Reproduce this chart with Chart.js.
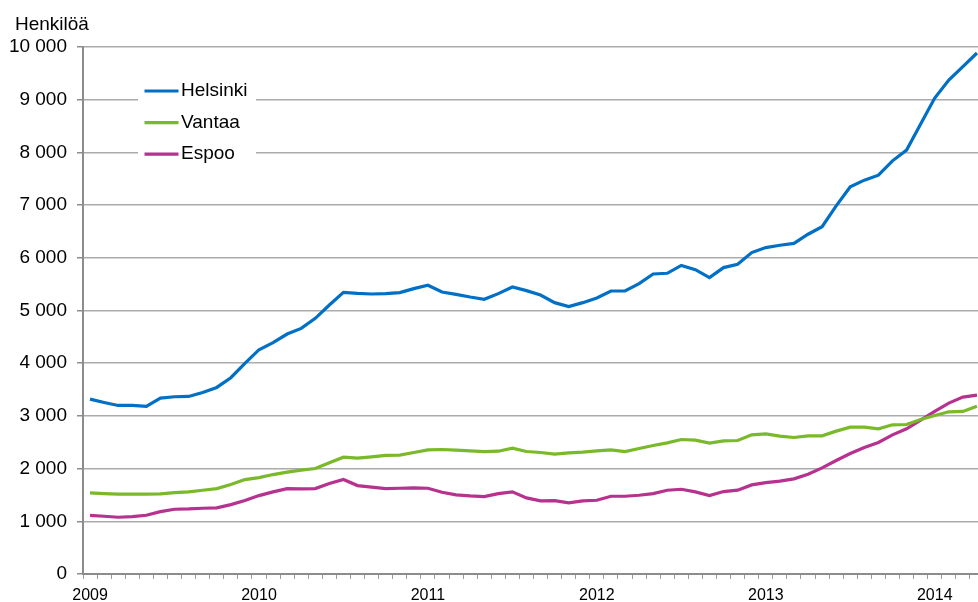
<!DOCTYPE html>
<html>
<head>
<meta charset="utf-8">
<script src="https://cdn.jsdelivr.net/npm/chart.js@4/dist/chart.umd.min.js"></script>
<style>
  html, body { margin: 0; padding: 0; background: #fff; overflow: hidden; }
  #wrap { position: relative; width: 984px; height: 602px; }
</style>
</head>
<body>
<div id="wrap"><canvas id="chart"></canvas></div>
<script>
const years = ['2009', '2010', '2011', '2012', '2013', '2014'];
const monthsShown = 64; // tammikuu 2009 - huhtikuu 2014

const helsinki = [
    3318, 3255, 3198, 3198, 3179, 3337, 3363, 3369, 3445, 3540, 3724, 3996,
    4256, 4389, 4553, 4661, 4851, 5104, 5345, 5326, 5313, 5320, 5339, 5415,
    5478, 5351, 5307, 5256, 5212, 5320, 5446, 5377, 5294, 5149, 5073, 5149,
    5237, 5370, 5370, 5510, 5693, 5706, 5855, 5775, 5624, 5814, 5877, 6099,
    6194, 6238, 6273, 6447, 6590, 6985, 7346, 7473, 7568, 7840, 8043, 8537,
    9031, 9373, 9626, 9886
];
const vantaa = [
    1539, 1526, 1514, 1514, 1514, 1520, 1545, 1558, 1589, 1621, 1697, 1792,
    1830, 1887, 1932, 1970, 2001, 2109, 2217, 2198, 2223, 2250, 2255, 2305,
    2356, 2362, 2349, 2337, 2324, 2330, 2387, 2324, 2305, 2273, 2299, 2311,
    2337, 2356, 2324, 2381, 2438, 2489, 2552, 2539, 2483, 2527, 2533, 2641,
    2660, 2616, 2590, 2622, 2622, 2711, 2787, 2787, 2755, 2831, 2837, 2932,
    3008, 3078, 3084, 3185
];
const espoo = [
    1114, 1096, 1077, 1089, 1114, 1184, 1229, 1235, 1248, 1254, 1317, 1393,
    1488, 1558, 1621, 1615, 1621, 1716, 1792, 1678, 1647, 1621, 1627, 1634,
    1627, 1551, 1501, 1482, 1469, 1526, 1558, 1444, 1387, 1393, 1349, 1387,
    1399, 1475, 1475, 1494, 1526, 1589, 1608, 1558, 1488, 1564, 1590, 1691,
    1735, 1761, 1805, 1894, 2014, 2153, 2286, 2400, 2495, 2641, 2755, 2919,
    3084, 3242, 3356, 3394
];

const colors = {
    helsinki: '#0070C6',
    vantaa: '#7AB929',
    espoo: '#B7318F'
};

// kuukausittaiset kategoriat
const labels = [];
for (let i = 0; i < monthsShown; i++) {
    labels.push(years[Math.floor(i / 12)] + '-' + String(i % 12 + 1).padStart(2, '0'));
}

const fontFamily = '"Liberation Sans", Arial, sans-serif';

function formatNumber(v) {
    return String(v).replace(/\B(?=(\d{3})+(?!\d))/g, ' ');
}

// otsikko ja selite piirretään itse
const extras = {
    id: 'extras',
    afterDraw(chart) {
        const ctx = chart.ctx;
        ctx.save();
        ctx.fillStyle = '#000';
        ctx.font = '19px ' + fontFamily;
        ctx.textBaseline = 'middle';
        ctx.textAlign = 'left';
        ctx.fillText('Henkilöä', 15, 25);

        ctx.fillStyle = '#fff';
        ctx.fillRect(138, 72, 118, 100);

        const items = [
            ['Helsinki', colors.helsinki],
            ['Vantaa', colors.vantaa],
            ['Espoo', colors.espoo]
        ];
        items.forEach((item, i) => {
            const y = 91 + i * 31.6;
            ctx.strokeStyle = item[1];
            ctx.lineWidth = 3.2;
            ctx.beginPath();
            ctx.moveTo(144.5, y);
            ctx.lineTo(178.5, y);
            ctx.stroke();
            ctx.fillStyle = '#000';
            ctx.fillText(item[0], 181, y);
        });
        ctx.restore();
    }
};

const ctx = document.getElementById('chart').getContext('2d');
new Chart(ctx, {
    type: 'line',
    data: {
        labels: labels,
        datasets: [
            { label: 'Helsinki', data: helsinki, borderColor: colors.helsinki },
            { label: 'Vantaa', data: vantaa, borderColor: colors.vantaa },
            { label: 'Espoo', data: espoo, borderColor: colors.espoo }
        ]
    },
    options: {
        responsive: true,
        maintainAspectRatio: false,
        animation: false,
        layout: { padding: { top: 47, right: 0, bottom: 0, left: 0 } },
        elements: {
            line: { borderWidth: 3.2, tension: 0 },
            point: { radius: 0, hoverRadius: 0 }
        },
        plugins: {
            legend: { display: false },
            tooltip: { enabled: false }
        },
        scales: {
            x: {
                offset: true,
                grid: {
                    offset: true,
                    drawOnChartArea: false,
                    tickLength: 5,
                    tickColor: '#9a9a9a',
                    tickWidth: 1
                },
                border: { color: '#8c8c8c', width: 2 },
                ticks: {
                    autoSkip: false,
                    maxRotation: 0,
                    minRotation: 0,
                    padding: 7,
                    color: '#000',
                    font: { family: fontFamily, size: 16 },
                    callback: (value, index) => index % 12 === 0 ? years[index / 12] : ''
                },
                afterFit(scale) { scale.height = 28; }
            },
            y: {
                min: 0,
                max: 10000,
                ticks: {
                    stepSize: 1000,
                    padding: 10,
                    color: '#000',
                    font: { family: fontFamily, size: 19 },
                    callback: v => formatNumber(v)
                },
                grid: {
                    color: '#ababab',
                    lineWidth: 1.5,
                    tickLength: 6,
                    tickColor: '#8c8c8c'
                },
                border: { color: '#8c8c8c', width: 2 },
                afterFit(scale) { scale.width = 83; }
            }
        }
    },
    plugins: [extras]
});
</script>
</body>
</html>
